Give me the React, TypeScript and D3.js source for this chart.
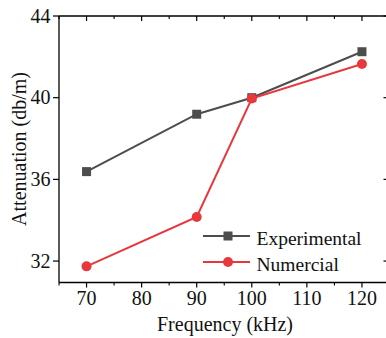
import React from "react";
import * as d3 from "d3";

const freqs = [70, 90, 100, 120];
const experimental = [36.38, 39.19, 40.0, 42.25];
const numerical = [31.74, 34.16, 39.96, 41.65];
const xTicks = [70, 80, 90, 100, 110, 120];
const xMinor = [65, 75, 85, 95, 105, 115, 125];
const yTicks = [32, 36, 40, 44];
const seriesNames = ["Experimental", "Numercial"];

const W = 386, H = 338;
const FONT = "'Liberation Serif', 'Times New Roman', serif";
const GRAY = "#4d4d4d";
const RED = "#e8383c";
const FS = 20;

export default function App() {
  const x = d3.scaleLinear().domain([65, 125]).range([59, 389.5]);
  const y = d3.scaleLinear().domain([30.95, 44]).range([282.5, 16]);
  const line = d3.line<[number, number]>().x(d => x(d[0])).y(d => y(d[1]));
  const expPts = freqs.map((f, i) => [f, experimental[i]] as [number, number]);
  const numPts = freqs.map((f, i) => [f, numerical[i]] as [number, number]);
  const x0 = x(65), x1 = x(125), yb = y(30.95), yt = y(44);
  return (
    <svg width={W} height={H} style={{ position: "absolute", left: 0, top: 0, background: "#fff" }} fontFamily={FONT}>
      <rect width={W} height={H} fill="#fff" />
      {/* frame */}
      <line x1={x0} x2={x1} y1={yb} y2={yb} stroke="#000" strokeWidth={1.3} />
      <line x1={x0} x2={x1} y1={yt} y2={yt} stroke="#000" strokeWidth={1.3} />
      <line x1={x0} x2={x0} y1={yt} y2={yb} stroke="#000" strokeWidth={1.3} />
      <line x1={x1} x2={x1} y1={yt} y2={yb} stroke="#000" strokeWidth={1.3} />
      {/* bottom ticks */}
      {xTicks.map(t => (
        <g key={"xb" + t}>
          <line x1={x(t)} x2={x(t)} y1={yb} y2={yb + 5} stroke="#000" strokeWidth={1.2} />
          <line x1={x(t)} x2={x(t)} y1={yt} y2={yt + 5} stroke="#000" strokeWidth={1.2} />
          <text x={x(t)} y={305} fontSize={FS} textAnchor="middle" fill="#111">{t}</text>
        </g>
      ))}
      {xMinor.map(t => (
        <g key={"xm" + t}>
          <line x1={x(t)} x2={x(t)} y1={yb} y2={yb + 3} stroke="#000" strokeWidth={1.1} />
          <line x1={x(t)} x2={x(t)} y1={yt} y2={yt + 3} stroke="#000" strokeWidth={1.1} />
        </g>
      ))}
      {yTicks.map(t => (
        <g key={"y" + t}>
          <line x1={x0 - 6} x2={x0} y1={y(t)} y2={y(t)} stroke="#000" strokeWidth={1.2} />
          <line x1={x1 - 6} x2={x1} y1={y(t)} y2={y(t)} stroke="#000" strokeWidth={1.2} />
          <text x={50.5} y={y(t) + 6.6} fontSize={FS} textAnchor="end" fill="#111">{t}</text>
        </g>
      ))}
      <text x={225} y={331} fontSize={FS} textAnchor="middle" fill="#111">Frequency (kHz)</text>
      <text transform={`translate(26,149) rotate(-90)`} fontSize={FS} textAnchor="middle" fill="#111">Attenuation (db/m)</text>
      {/* series */}
      <path d={line(expPts) || ""} fill="none" stroke={GRAY} strokeWidth={2} />
      <path d={line(numPts) || ""} fill="none" stroke={RED} strokeWidth={2} />
      {expPts.map((p, i) => (
        <rect key={"e" + i} x={x(p[0]) - 4.5} y={y(p[1]) - 4.5} width={9} height={9} fill={GRAY} />
      ))}
      {numPts.map((p, i) => (
        <circle key={"n" + i} cx={x(p[0])} cy={y(p[1])} r={5} fill={RED} />
      ))}
      {/* legend */}
      <g>
        <line x1={203} x2={250} y1={236} y2={236} stroke={GRAY} strokeWidth={2} />
        <rect x={228 - 4.5} y={236 - 4.5} width={9} height={9} fill={GRAY} />
        <text x={256.5} y={244.5} fontSize={19.5} fill="#111">{seriesNames[0]}</text>
        <line x1={203} x2={250} y1={262} y2={262} stroke={RED} strokeWidth={2} />
        <circle cx={228} cy={262} r={5} fill={RED} />
        <text x={256.5} y={270.5} fontSize={19.5} fill="#111">{seriesNames[1]}</text>
      </g>
    </svg>
  );
}
